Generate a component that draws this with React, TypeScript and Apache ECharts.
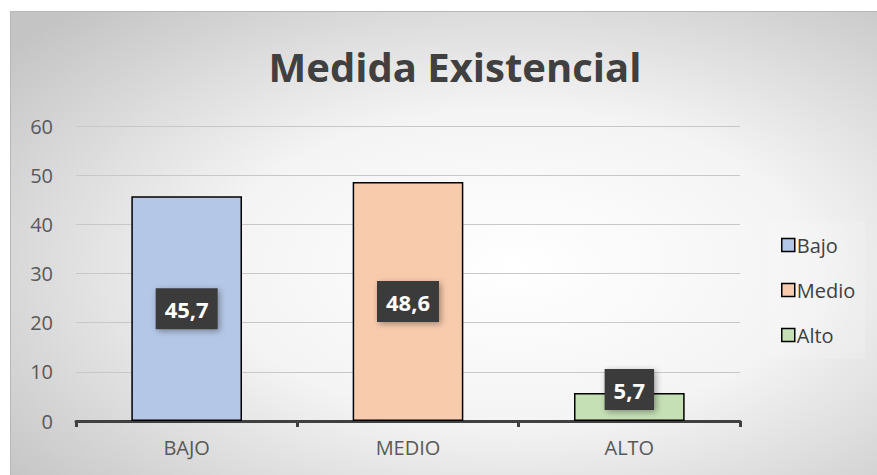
import React, { useEffect, useRef } from "react";
import * as echarts from "echarts";

const categories = ["BAJO", "MEDIO", "ALTO"];
const seriesNames = ["Bajo", "Medio", "Alto"];
const values = [45.7, 48.6, 5.7];
const colors = ["#b4c7e7", "#f8cbad", "#c5e0b4"];
const yTicks = { min: 0, max: 60, interval: 10 };
const title = "Medida Existencial";

const FONT = "'Open Sans', 'Noto Sans', sans-serif";

export default function App() {
  const ref = useRef<HTMLDivElement>(null);
  useEffect(() => {
    if (!ref.current) return;
    const chart = echarts.init(ref.current, undefined, { renderer: "svg" });
    const series = seriesNames.map((name, i) => ({
      name,
      type: "bar",
      barWidth: "50%",
      barGap: "-100%",
      data: categories.map((_, j) =>
        j === i
          ? {
              value: values[j],
              label:
                values[j] < 10
                  ? { position: "top", offset: [0, 22] }
                  : { position: "inside" },
            }
          : "-"
      ),
      itemStyle: { color: colors[i], borderColor: "#000", borderWidth: 1.5 },
      label: {
        show: true,
        formatter: (p: any) => String(p.value).replace(".", ","),
        color: "#ffffff",
        fontFamily: FONT,
        fontWeight: "bold",
        fontSize: 22,
        lineHeight: 22,
        backgroundColor: "#3b3b3b",
        padding: [10, 9, 9, 9],
        shadowColor: "rgba(0,0,0,0.35)",
        shadowBlur: 6,
        shadowOffsetX: 2,
        shadowOffsetY: 2,
      },
    }));
    chart.setOption({
      animation: false,
      backgroundColor: {
        type: "radial",
        x: 0.58,
        y: 0.55,
        r: 0.75,
        colorStops: [
          { offset: 0, color: "#ffffff" },
          { offset: 0.45, color: "#f4f4f4" },
          { offset: 1, color: "#c4c4c4" },
        ],
      },
      title: {
        text: title,
        left: 449 - 10,
        top: 29,
        textAlign: "center",
        textStyle: {
          fontFamily: FONT,
          fontWeight: "bold",
          fontSize: 40,
          color: "#404040",
        },
      },
      legend: {
        orient: "vertical",
        left: 758,
        top: 209,
        itemWidth: 13,
        itemHeight: 13,
        itemGap: 25,
        padding: [14, 10, 14, 12],
        backgroundColor: "rgba(255,255,255,0.15)",
        icon: "rect",
        textStyle: {
          fontFamily: FONT,
          fontSize: 20,
          lineHeight: 20,
          color: "#404040",
          padding: [0, 0, 0, -3],
        },
        itemStyle: { borderColor: "#000", borderWidth: 1.5 },
        data: seriesNames,
      },
      grid: { left: 65, right: 137, top: 114, bottom: 54 },
      xAxis: {
        type: "category",
        data: categories,
        axisLine: { lineStyle: { color: "#404040", width: 3 } },
        axisTick: { show: true, length: 6, lineStyle: { color: "#404040", width: 3 } },
        axisLabel: { fontFamily: FONT, fontSize: 20, color: "#595959", margin: 16 },
      },
      yAxis: {
        type: "value",
        min: yTicks.min,
        max: yTicks.max,
        interval: yTicks.interval,
        axisLine: { show: false },
        axisTick: { show: false },
        axisLabel: { fontFamily: FONT, fontSize: 20, color: "#595959", margin: 23 },
        splitLine: { lineStyle: { color: "#c8c8c8", width: 1 } },
      },
      series,
    });
    return () => chart.dispose();
  }, []);
  return (
    <div style={{ position: "absolute", left: 0, top: 0, width: 877, height: 475, background: "#fff" }}>
      <div
        ref={ref}
        style={{
          position: "absolute",
          left: 10,
          top: 11,
          width: 867,
          height: 464,
          borderLeft: "1px solid #b8b8b8",
          borderTop: "1px solid #b8b8b8",
          boxSizing: "border-box",
        }}
      />
    </div>
  );
}
